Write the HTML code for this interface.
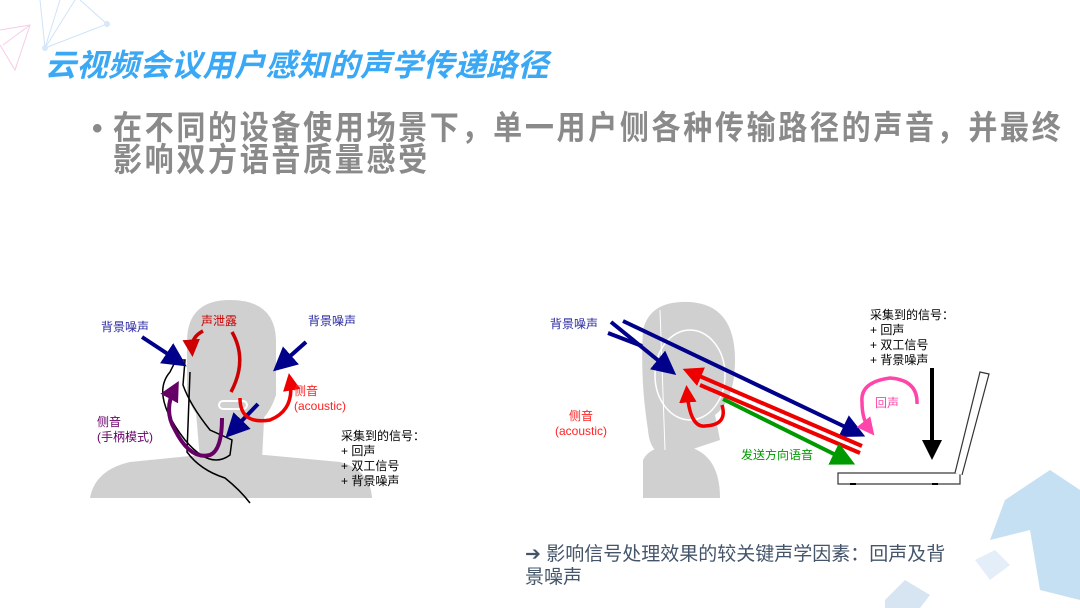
<!DOCTYPE html>
<html><head><meta charset="utf-8"><style>
body{margin:0;width:1080px;height:608px;overflow:hidden;background:#fff;position:relative;font-family:"Liberation Sans","Noto Sans CJK SC",sans-serif}
.t{position:absolute;white-space:nowrap}
</style></head><body>
<svg width="1080" height="608" style="position:absolute;left:0;top:0" xmlns="http://www.w3.org/2000/svg">
<defs>
<marker id="ab" markerWidth="6" markerHeight="6" refX="4" refY="3" orient="auto" markerUnits="strokeWidth"><path d="M0,0L6,3L0,6z" fill="#00008b"/></marker>
<marker id="ar" markerWidth="5" markerHeight="5" refX="3" refY="2.5" orient="auto" markerUnits="strokeWidth"><path d="M0,0L5,2.5L0,5z" fill="#e00"/></marker>
<marker id="ar2" markerWidth="5" markerHeight="5" refX="3" refY="2.5" orient="auto" markerUnits="strokeWidth"><path d="M0,0L5,2.5L0,5z" fill="#c00"/></marker>
<marker id="ap" markerWidth="5" markerHeight="5" refX="3" refY="2.5" orient="auto" markerUnits="strokeWidth"><path d="M0,0L5,2.5L0,5z" fill="#660066"/></marker>
<marker id="ag" markerWidth="6" markerHeight="6" refX="4" refY="3" orient="auto" markerUnits="strokeWidth"><path d="M0,0L6,3L0,6z" fill="#090"/></marker>
<marker id="apk" markerWidth="5" markerHeight="5" refX="3" refY="2.5" orient="auto" markerUnits="strokeWidth"><path d="M0,0L5,2.5L0,5z" fill="#f4a"/></marker>
<marker id="ak" markerWidth="5" markerHeight="5" refX="3" refY="2.5" orient="auto" markerUnits="strokeWidth"><path d="M0,0L5,2.5L0,5z" fill="#000"/></marker>
</defs>
<g stroke="#cfe3f7" stroke-width="1" fill="none"><path d="M40,0 L45,48 L107,24 L80,0 M45,48 L75,0 M45,48 L60,0"/></g>
<g stroke="#f8cbe8" stroke-width="1" fill="none"><path d="M0,30 L30,25 L15,70 L0,45 M3,45 L30,25"/></g>
<circle cx="45" cy="48" r="3" fill="#d8e8f8"/><circle cx="107" cy="24" r="3" fill="#d8e8f8"/>
<path d="M1005,500 L1050,470 L1080,490 L1080,600 L1040,590 L1030,530 L990,540 z" fill="#c5e0f2"/>
<path d="M975,560 L995,550 L1010,565 L990,580 z" fill="#e4eef8"/>
<path d="M885,600 L905,580 L930,595 L920,608 L885,608z" fill="#d7e5f3"/>
<path d="M90,498 Q95,470 130,462 L200,455 L265,455 L340,462 Q370,470 372,498 z" fill="#d0d0d0"/>
<path d="M195,400 L200,460 L262,460 L265,400z" fill="#d0d0d0"/>
<path d="M187,340 Q188,300 230,300 Q275,300 276,340 L276,395 Q265,430 232,432 Q198,430 187,395z" fill="#d0d0d0"/>
<rect x="219" y="401" width="28" height="8" rx="4" fill="none" stroke="#fff" stroke-width="2"/>
<path d="M190,372 L187,452 Q200,470 225,478 Q240,490 250,503" stroke="#000" stroke-width="1.5" fill="none"/>
<path d="M170,372 Q150,395 185,440 Q210,470 230,455 L232,440 L210,430 Q190,405 183,385 L185,360 L176,360z" fill="none" stroke="#000" stroke-width="1.5"/>
<path d="M222,418 Q222,450 210,455 Q190,460 175,430 Q163,410 175,388" stroke="#660066" stroke-width="4" fill="none" marker-end="url(#ap)"/>
<path d="M142,337 L180,362" stroke="#00008b" stroke-width="4" marker-end="url(#ab)"/>
<path d="M306,342 L279,366" stroke="#00008b" stroke-width="4" marker-end="url(#ab)"/>
<path d="M258,404 L231,432" stroke="#00008b" stroke-width="4" marker-end="url(#ab)"/>
<path d="M232,332 Q248,360 231,392" stroke="#c00" stroke-width="3.5" fill="none"/>
<path d="M203,331 Q191,337 192,350" stroke="#c00" stroke-width="3.5" fill="none" marker-end="url(#ar2)"/>
<path d="M240,398 Q240,425 270,420 Q295,410 290,380" stroke="#e00" stroke-width="3.5" fill="none" marker-end="url(#ar)"/>
<path d="M643,498 L643,460 Q650,445 680,445 Q720,450 720,498z" fill="#d0d0d0"/>
<path d="M643,330 Q650,300 690,302 Q735,305 735,360 Q735,400 715,415 L720,440 L690,450 L668,455 Q650,455 648,430 Q640,380 643,330z" fill="#d0d0d0"/>
<ellipse cx="690" cy="375" rx="35" ry="45" fill="none" stroke="#fff" stroke-width="1.5"/>
<path d="M660,310 L665,450" stroke="#fff" stroke-width="1" fill="none"/>
<path d="M611,322 L670,370" stroke="#00008b" stroke-width="4" marker-end="url(#ab)"/>
<path d="M608,333 L642,346" stroke="#00008b" stroke-width="4"/>
<path d="M623,321 L858,433" stroke="#00008b" stroke-width="4" marker-end="url(#ab)"/>
<path d="M862,446 L690,372" stroke="#e00" stroke-width="4" marker-end="url(#ar)"/>
<path d="M860,453 L700,385" stroke="#e00" stroke-width="4"/>
<path d="M723,399 L848,461" stroke="#090" stroke-width="4" marker-end="url(#ag)"/>
<path d="M722,405 Q728,425 705,426 Q690,428 687,392" stroke="#e00" stroke-width="3.5" fill="none" marker-end="url(#ar)"/>
<path d="M917,404 Q918,380 890,378 Q860,382 862,402 Q862,420 870,430" stroke="#f4a" stroke-width="3.5" fill="none" marker-end="url(#apk)"/>
<path d="M932,368 L932,452" stroke="#000" stroke-width="4" marker-end="url(#ak)"/>
<rect x="838" y="473" width="122" height="11" fill="#fff" stroke="#333" stroke-width="1.2"/>
<path d="M955,473 L980,372 L989,374 L962,475" fill="#fff" stroke="#333" stroke-width="1.2"/>
<rect x="850" y="483" width="6" height="2" fill="#000"/><rect x="932" y="483" width="6" height="2" fill="#000"/>
</svg>
<div class="t" style="left:45px;top:40px;font-size:31px;font-weight:bold;font-style:italic;color:#3aa8f5;letter-spacing:0.5px">云视频会议用户感知的声学传递路径</div>
<div class="t" style="left:92px;top:112px;font-size:30px;font-weight:bold;color:#8a8a8a;line-height:33px">•</div>
<div class="t" style="left:113px;top:111px;font-size:33px;font-weight:bold;color:#8a8a8a;letter-spacing:3px;line-height:33px;transform:scaleX(0.88);transform-origin:left">在不同的设备使用场景下，单一用户侧各种传输路径的声音，并最终</div>
<div class="t" style="left:113px;top:143px;font-size:33px;font-weight:bold;color:#8a8a8a;letter-spacing:3px;line-height:33px;transform:scaleX(0.88);transform-origin:left">影响双方语音质量感受</div>
<div class="t" style="left:101px;top:318px;font-size:12px;color:#2a2aa0">背景噪声</div>
<div class="t" style="left:201px;top:312px;font-size:12px;color:#c00">声泄露</div>
<div class="t" style="left:308px;top:312px;font-size:12px;color:#2a2aa0">背景噪声</div>
<div class="t" style="left:294px;top:384px;font-size:12px;color:#f22;line-height:15px">侧音<br>(acoustic)</div>
<div class="t" style="left:97px;top:415px;font-size:12px;color:#660066;line-height:15px">侧音<br>(手柄模式)</div>
<div class="t" style="left:341px;top:429px;font-size:12px;color:#000;line-height:15px">采集到的信号：<br>+ 回声<br>+ 双工信号<br>+ 背景噪声</div>
<div class="t" style="left:550px;top:315px;font-size:12px;color:#2a2aa0">背景噪声</div>
<div class="t" style="left:555px;top:409px;font-size:12px;color:#f22;line-height:15px;text-align:center">侧音<br>(acoustic)</div>
<div class="t" style="left:741px;top:446px;font-size:12px;color:#090">发送方向语音</div>
<div class="t" style="left:875px;top:394px;font-size:12px;color:#f4a">回声</div>
<div class="t" style="left:870px;top:308px;font-size:12px;color:#000;line-height:15px">采集到的信号：<br>+ 回声<br>+ 双工信号<br>+ 背景噪声</div>
<div class="t" style="left:525px;top:543px;font-size:19px;color:#44546a;line-height:23px">➔ 影响信号处理效果的较关键声学因素：回声及背<br>景噪声</div>
</body></html>
